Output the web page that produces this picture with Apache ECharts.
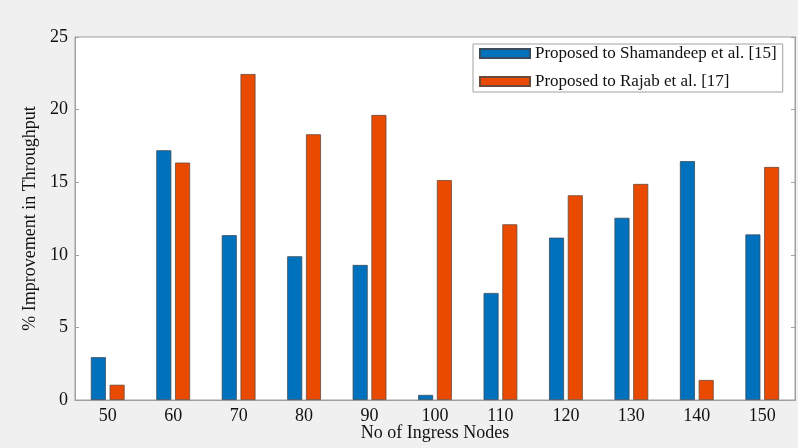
<!DOCTYPE html>
<html><head><meta charset="utf-8">
<script src="https://cdn.jsdelivr.net/npm/echarts@6/dist/echarts.min.js"></script>
<style>html,body{margin:0;padding:0;background:#f0f0f0;}#c{width:798px;height:448px;}</style>
</head><body><div id="c"></div>
<script>
const categories = ['50','60','70','80','90','100','110','120','130','140','150'];
const shamandeep = [2.95, 17.2, 11.35, 9.9, 9.3, 0.35, 7.37, 11.18, 12.55, 16.45, 11.4];
const rajab = [1.05, 16.35, 22.45, 18.3, 19.63, 15.15, 12.1, 14.1, 14.88, 1.38, 16.05];
const yTicks = {min: 0, max: 25, interval: 5};
const seriesNames = ['Proposed to Shamandeep et al. [15]', 'Proposed to Rajab et al. [17]'];

const font = 'Liberation Serif';
const chart = echarts.init(document.getElementById('c'));
chart.setOption({
  backgroundColor: '#f0f0f0',
  animation: false,
  textStyle: {fontFamily: font},
  grid: {left: 75, right: 3, top: 37, bottom: 48, containLabel: false, outerBoundsMode: 'none',
         show: true, backgroundColor: '#ffffff', borderColor: '#a0a0a0', borderWidth: 1},
  legend: {
    orient: 'vertical', left: 473, top: 44, itemWidth: 50, itemHeight: 9, itemGap: 11,
    icon: 'rect',
    padding: [1, 6, 2, 6],
    backgroundColor: '#ffffff', borderColor: '#a0a0a0', borderWidth: 1, borderRadius: 0,
    textStyle: {fontFamily: font, fontSize: 17, color: '#111'},
    data: seriesNames
  },
  xAxis: [{
    type: 'category', data: categories, boundaryGap: true,
    name: 'No of Ingress Nodes', nameLocation: 'middle', nameGap: 24, nameMoveOverlap: false,
    nameTextStyle: {fontFamily: font, fontSize: 18, color: '#111'},
    axisLine: {lineStyle: {color: '#a0a0a0'}},
    axisTick: {inside: true, alignWithLabel: true, length: 4, lineStyle: {color: '#a0a0a0'}},
    axisLabel: {fontFamily: font, fontSize: 18, color: '#111', margin: 7}
  }, {
    type: 'category', data: categories, position: 'top', boundaryGap: true,
    axisLine: {show: true, lineStyle: {color: '#a0a0a0'}},
    axisTick: {inside: true, alignWithLabel: true, length: 4, lineStyle: {color: '#a0a0a0'}},
    axisLabel: {show: false}
  }],
  yAxis: [{
    type: 'value', min: yTicks.min, max: yTicks.max, interval: yTicks.interval,
    name: '% Improvement in Throughput', nameLocation: 'middle', nameGap: 36, nameMoveOverlap: false,
    nameTextStyle: {fontFamily: font, fontSize: 18, color: '#111'},
    axisLine: {show: true, lineStyle: {color: '#a0a0a0'}},
    axisTick: {show: true, inside: true, length: 4, lineStyle: {color: '#a0a0a0'}},
    splitLine: {show: false},
    axisLabel: {fontFamily: font, fontSize: 18, color: '#111', margin: 7}
  }, {
    type: 'value', min: yTicks.min, max: yTicks.max, interval: yTicks.interval, position: 'right',
    axisLine: {show: true, lineStyle: {color: '#a0a0a0'}},
    axisTick: {show: true, inside: true, length: 4, lineStyle: {color: '#a0a0a0'}},
    splitLine: {show: false},
    axisLabel: {show: false}
  }],
  series: [{
    name: seriesNames[0], type: 'bar', data: shamandeep, barWidth: 15, barGap: '25%',
    itemStyle: {color: '#0072BD', borderColor: '#3a4a5a', borderWidth: 0.8}
  }, {
    name: seriesNames[1], type: 'bar', data: rajab, barWidth: 15, barGap: '25%',
    itemStyle: {color: '#EA4A00', borderColor: '#6a4a3a', borderWidth: 0.8}
  }]
});
</script></body></html>
